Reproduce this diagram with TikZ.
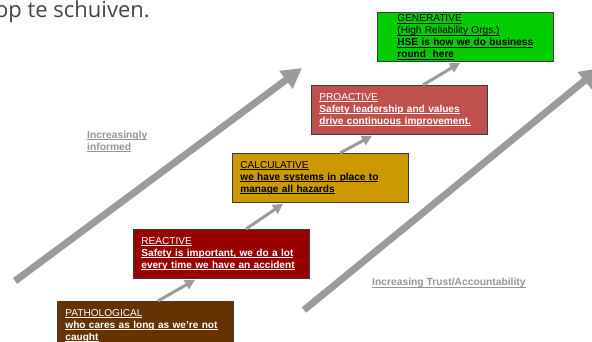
\documentclass[tikz,border=0pt]{standalone}
\usepackage{fontspec}
\setmainfont{Liberation Sans}
\newfontfamily\headfont{Open Sans}
\usetikzlibrary{arrows.meta}
\definecolor{arrowgray}{RGB}{155,155,155}
\definecolor{boxborder}{RGB}{60,60,60}
\definecolor{genfill}{RGB}{0,204,0}
\definecolor{profill}{RGB}{192,80,77}
\definecolor{calcfill}{RGB}{204,153,0}
\definecolor{reafill}{RGB}{153,0,0}
\definecolor{pathfill}{RGB}{102,51,0}
\definecolor{labelgray}{RGB}{150,150,150}
\definecolor{headgray}{RGB}{70,70,70}
\newcommand\myul[1]{\leavevmode\setbox0\hbox{#1}\rlap{\rule[-1.6pt]{\wd0}{0.6pt}}\box0}
\tikzset{
  stage/.style={draw=boxborder, line width=0.8pt, rectangle, anchor=north west,
    minimum height=49pt, text width=160pt, inner xsep=8pt, inner ysep=0pt,
    align=left, font=\fontsize{10.1}{12}\selectfont},
  bigarrow/.style={draw=arrowgray, line width=7pt,
    -{Triangle[length=20pt,width=21pt]}},
  smallarrow/.style={draw=arrowgray, line width=3pt,
    -{Triangle[length=10pt,width=10pt]}},
  graylabel/.style={text=labelgray, font=\fontsize{10.3}{12}\selectfont\bfseries,
    inner sep=0pt, align=left}
}
\begin{document}
\begin{tikzpicture}[x=1pt,y=-1pt]
\useasboundingbox (0,0) rectangle (592,341);
\clip (0,0) rectangle (592,341);

\node[anchor=base west, inner sep=0pt, text=headgray,
  font=\headfont\fontsize{22}{26}\selectfont] (title) at (-5,17) {op te schuiven.};

% big arrows
\coordinate (la0) at (15,281);
\coordinate (la1) at (302,68);
\coordinate (ra0) at (304,310);
\coordinate (ra1) at (600,68);
\draw[bigarrow] (la0) -- (la1);
\draw[bigarrow] (ra0) -- (ra1);

% stage boxes
\node[stage, fill=genfill, text=black, text width=136pt, inner xsep=20pt] (gen) at (377,12)
  {\myul{GENERATIVE}\\\myul{(High Reliability Orgs.)}\\\textbf{\myul{HSE is how we do business}}\\\textbf{\myul{round\ \ here}}};
\node[stage, fill=profill, text=white] (pro) at (311,85)
  {\myul{PROACTIVE}\\\textbf{\myul{Safety leadership and values}}\\\textbf{\myul{drive continuous improvement.}}};
\node[stage, fill=calcfill, text=black] (calc) at (232,153)
  {\myul{CALCULATIVE}\\\textbf{\myul{we have systems in place to}}\\\textbf{\myul{manage all hazards}}};
\node[stage, fill=reafill, text=white] (rea) at (133,229)
  {\myul{REACTIVE}\\\textbf{\myul{Safety is important, we do a lot}}\\\textbf{\myul{every time we have an accident}}};
\node[stage, fill=pathfill, text=white] (path) at (57,301)
  {\myul{PATHOLOGICAL}\\\textbf{\myul{who cares as long as we're not}}\\\textbf{\myul{caught}}};

% small arrows between stages
\draw[smallarrow] ([xshift=101pt]path.north west) -- ([xshift=62pt,yshift=-1pt]rea.south west);
\draw[smallarrow] ([xshift=113pt]rea.north west) -- ([xshift=51pt,yshift=-1pt]calc.south west);
\draw[smallarrow] ([xshift=108pt]calc.north west) -- ([xshift=61pt,yshift=-1pt]pro.south west);
\draw[smallarrow] ([xshift=112pt]pro.north west) -- ([xshift=83pt,yshift=-1pt]gen.south west);

% labels
\node[graylabel, anchor=north west] (inf) at (87,130.5)
  {\myul{Increasingly}\\\myul{informed}};
\node[graylabel, anchor=base west] (trust) at (372,285.5)
  {\myul{Increasing Trust/Accountability}};
\end{tikzpicture}
\end{document}
